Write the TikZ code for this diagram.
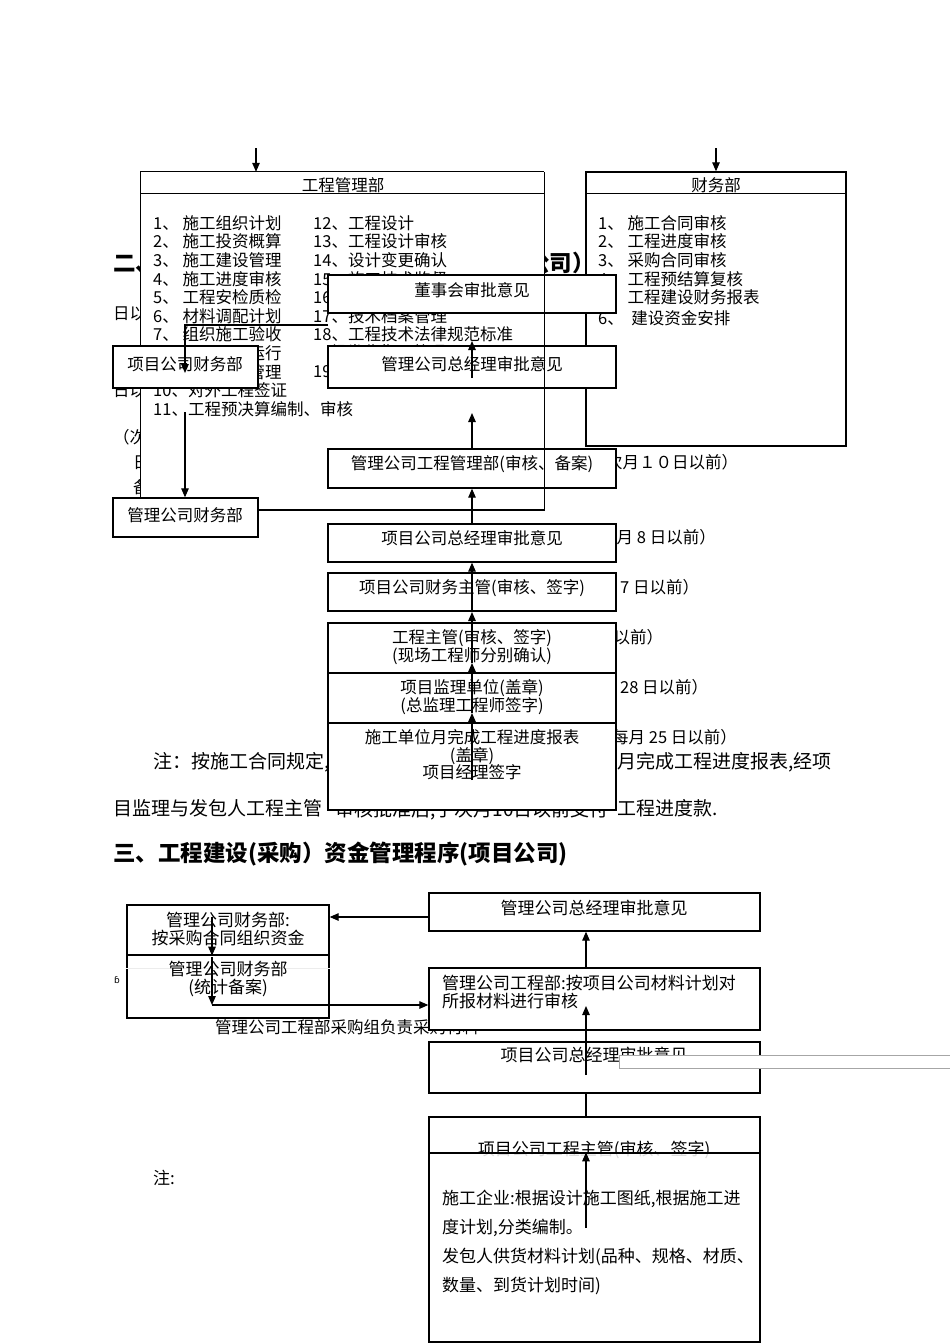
\documentclass[tikz,border=0pt]{standalone}
\usepackage{fontspec}
\setmainfont{Noto Sans CJK SC}
\newfontfamily\djv{DejaVu Sans}
\usetikzlibrary{arrows.meta}
\tikzset{
 bx/.style={draw=black, line width=1.3pt, fill=white, inner sep=0pt},
 tx/.style={inner sep=0pt, font=\fontsize{16.5}{18.5}\selectfont, align=center},
 tl/.style={inner sep=0pt, font=\fontsize{16.5}{18.5}\selectfont, anchor=west, text height=14.5pt, text depth=2pt},
 tb/.style={inner sep=0pt, font=\fontsize{17}{29}\selectfont, anchor=west, text height=15pt, text depth=2pt},
 bt/.style={inner sep=0pt, font=\fontsize{19}{22}\selectfont, anchor=west, text height=16.7pt, text depth=2.3pt},
 hd/.style={inner sep=0pt, font=\bfseries\fontsize{22.5}{25}\selectfont, anchor=west, text height=19.8pt, text depth=2.7pt},
 ar/.style={-{Triangle[length=9pt,width=7.5pt]}, line width=1.2pt},
 ln/.style={line width=1.2pt},
}
\begin{document}
\begin{tikzpicture}[x=1pt,y=-1pt]
\useasboundingbox (0,0) rectangle (950,1344);
\fill[white] (0,0) rectangle (950,1344);

% ---------- section two: background texts ----------
\node[hd] (h2) at (113,263) {二、工程建设(施工）资金管理程序（项目公司）};
\node[tl] (f1) at (113,313) {日以};
\node[tl] (f2) at (113,390) {日以};
\node[tl] (f3) at (113,437) {（次};
\node[tl] (f4) at (133,462) {日};
\node[tl] (f5) at (133,487) {备};
\node[tl] (r1) at (606,462) {次月１０日以前）};
\node[tl] (r2) at (600,537) {每月 8 日以前）};
\node[tl] (r3) at (620,587) {7 日以前）};
\node[tl] (r4) at (597,637) {日以前）};
\node[tl] (r5) at (620,687) {28 日以前）};
\node[tl] (r6) at (612,737) {每月 25 日以前）};

% ---------- engineering department ----------
\node[fill=white, minimum width=403, minimum height=325, inner sep=0pt] (gc) at (342.5,334.5) {};
\draw[ln] (gc.south west) -- (gc.north west) -- (gc.north east);
\draw[ln] ([yshift=-22pt]gc.north west) -- ([yshift=-22pt]gc.north east);
\node[tx] (gct) at (343,185) {工程管理部};
\foreach \t [count=\i from 0] in {1、 施工组织计划, 2、 施工投资概算, 3、 施工建设管理, 4、 施工进度审核, 5、 工程安检质检, 6、 材料调配计划, 7、 组织施工验收, 8、 组织试车运行, 9、 施工现场管理, 10、对外工程签证, 11、工程预决算编制、审核}
  \node[tl] (gl\i) at (153,223+18.6*\i) {\t};
\foreach \t [count=\i from 0] in {12、工程设计, 13、工程设计审核, 14、设计变更确认, 15、施工技术监督, 16、工程质量监督, 17、技术档案管理, 18、工程技术法律规范标准}
  \node[tl] (gr\i) at (313,223+18.6*\i) {\t};
\node[tl] (gr7) at (330,352) {组卷收集、整理};
\node[tl] (gr8) at (313,371) {19、工程资料归档};

% ---------- finance department ----------
\node[bx, minimum width=260, minimum height=274] (cw) at (716,309) {};
\draw[ln] ([yshift=-22pt]cw.north west) -- ([yshift=-22pt]cw.north east);
\node[tx] (cwt) at (716,185) {财务部};
\foreach \t [count=\i from 0] in {1、 施工合同审核, 2、 工程进度审核, 3、 采购合同审核, 4、 工程预结算复核, 5、 工程建设财务报表}
  \node[tl] (cl\i) at (598,223+18.6*\i) {\t};
\node[tl] (cl5) at (598,318) {6、\ \ 建设资金安排};

% ---------- flow boxes (section two) ----------
\node[bx, minimum width=288, minimum height=38] (dsh) at (472,294) {};
\node[tx] (dsht) at (472,290) {董事会审批意见};
\node[bx, minimum width=288, minimum height=42] (zjl) at (472,367) {};
\node[tx] (zjlt) at (472,364) {管理公司总经理审批意见};
\node[bx, minimum width=145, minimum height=42] (xmcw) at (185.5,367) {};
\node[tx] (xmcwt) at (185,364) {项目公司财务部};
\node[bx, minimum width=288, minimum height=39] (glgc) at (472,468.5) {};
\node[tx] (glgct) at (472,464) {管理公司工程管理部(审核、备案)};
\node[bx, minimum width=145, minimum height=39] (glcw) at (185.5,517.5) {};
\node[tx] (glcwt) at (185,515) {管理公司财务部};
\node[bx, minimum width=288, minimum height=38] (xzjl) at (472,543) {};
\node[tx] (xzjlt) at (472,538) {项目公司总经理审批意见};
\node[bx, minimum width=288, minimum height=38] (xcw) at (472,592) {};
\node[tx] (xcwt) at (472,588) {项目公司财务主管(审核、签字)};
\node[bx, minimum width=288, minimum height=50] (gczg) at (472,648) {};
\node[tx] (gczgt) at (472,647) {工程主管(审核、签字)\\(现场工程师分别确认)};

% note text behind the report box
\node[bt] (n1) at (153,761) {注：按施工合同规定,};
\node[bt] (n2) at (598,761) {当月完成工程进度报表,经项};
\node[bt] (n3) at (113,808) {目监理与发包人工程主管};
\node[bt, anchor=center] (n4) at (472,809) {审核批准后,于次月10日以前支付};
\node[bt] (n5) at (617,808) {工程进度款.};

\node[bx, minimum width=288, minimum height=50] (jl) at (472,698) {};
\node[tx] (jlt) at (472,697) {项目监理单位(盖章)\\(总监理工程师签字)};
\node[bx, minimum width=288, minimum height=87] (sg) at (472,766.5) {};
\node[tx, font=\fontsize{16.5}{17.5}\selectfont] (sgt) at (472,755) {施工单位月完成工程进度报表\\(盖章)\\项目经理签字};

% ---------- connectors (section two) ----------
\coordinate (a1) at (256,148);
\coordinate (a2) at (716,148);
\draw[ar] (a1) -- (a1 |- gc.north);
\draw[ar] (a2) -- (cw.north);
\coordinate (v0) at (472,780);
\coordinate (v1) at (472,713);
\coordinate (v2) at (472,663);
\coordinate (v3) at (472,612);
\coordinate (v4) at (472,413);
\coordinate (v5) at (472,378);
\coordinate (v6) at (472,341);
\draw[ar] (v0) -- (v1);
\draw[ar] (v1) -- (v2);
\draw[ar] (v2) -- (v3);
\draw[ar] (v3) -- (xzjl.south);
\draw[ar] (xzjl.north) -- (glgc.south);
\draw[ar] (glgc.north) -- (v4);
\draw[ar] (v5) -- (v6);
\coordinate (b1) at (328,325);
\coordinate (b2) at (185,373);
\coordinate (b3) at (185,412);
\coordinate (b4) at (258,510);
\draw[ar] (b1) -| (b2);
\draw[ar] (b3) -- (b3 |- glcw.north);
\draw[ln] (b4) -| (gc.north east);

% ---------- section three ----------
\node[hd] (h3) at (113,853) {三、工程建设(采购）资金管理程序(项目公司)};
\node[tl] (p1) at (215,1027) {管理公司工程部采购组负责采购材料};
\node[inner sep=0pt, font=\djv\fontsize{9}{10}\selectfont] (p2) at (117,980) {ɓ};
\node[tb] (p3) at (153,1178) {注:};

\node[bx, minimum width=331, minimum height=38] (bz) at (594.5,912) {};
\node[tx, font=\fontsize{17}{19}\selectfont] (bzt) at (594,908) {管理公司总经理审批意见};
\node[bx, minimum width=202, minimum height=50] (bcw1) at (228,930) {};
\node[tx, font=\fontsize{17}{18}\selectfont] (bcw1t) at (228,929) {管理公司财务部:\\按采购合同组织资金};
\node[bx, minimum width=202, minimum height=63] (bcw2) at (228,986.5) {};
\draw[gray!15, line width=1pt] (bcw2.west |- 0,968) -- (bcw2.east |- 0,968);
\node[tx, font=\fontsize{17}{18}\selectfont] (bcw2t) at (228,978.5) {管理公司财务部\\(统计备案)};
\node[bx, minimum width=331, minimum height=62] (bgc) at (594.5,999) {};
\node[tx, anchor=west, align=left, font=\fontsize{17}{18}\selectfont] (bgct) at (442,992) {管理公司工程部:按项目公司材料计划对\\所报材料进行审核};
\node[bx, minimum width=331, minimum height=51] (bxz) at (594.5,1067.5) {};
\node[tx, font=\fontsize{17}{19}\selectfont] (bxzt) at (594,1055) {项目公司总经理审批意见};
\node[draw=gray!70, line width=0.7pt, fill=white, minimum width=331, minimum height=13, inner sep=0pt] (ov) at (784.5,1061.5) {};
\node[bx, minimum width=331, minimum height=225] (bgzg) at (594.5,1229.5) {};
\node[tx, font=\fontsize{17}{19}\selectfont] (bgzgt) at (594,1150) {项目公司工程主管(审核、签字)};
\node[draw=black, line width=1.3pt, fill=white, fill opacity=0.85, minimum width=331, minimum height=189, inner sep=0pt] (sq) at (594.5,1247.5) {};
\foreach \t [count=\i from 0] in {{施工企业:根据设计施工图纸,根据施工进}, {度计划,分类编制。}, {发包人供货材料计划(品种、规格、材质、}, {数量、到货计划时间)}}
  \node[tb] (sq\i) at (442,1198+29*\i) {\t};

% ---------- connectors (section three) ----------
\coordinate (d1) at (429,917);
\coordinate (d2) at (212,917);
\coordinate (d3) at (212,957);
\coordinate (d4) at (212,1005);
\draw[ar] (d1) -- (d1 -| bcw1.east);
\draw[ar] (d2) -- (d2 |- bcw1.south);
\draw[ar] (d3) -- (d4);
\draw[ar] (d4) -- (d4 -| bgc.west);
\coordinate (e1) at (586,968);
\coordinate (e2) at (586,1075);
\coordinate (e3) at (586,1006);
\coordinate (e4) at (586,1228);
\draw[ar] (e1) -- (e1 |- bz.south);
\draw[ar] (e2) -- (e3);
\draw[ln] (e1 |- bxz.south) -- (e1 |- bgzg.north);
\draw[ar] (e4) -- (e4 |- sq.north);
\end{tikzpicture}
\end{document}
